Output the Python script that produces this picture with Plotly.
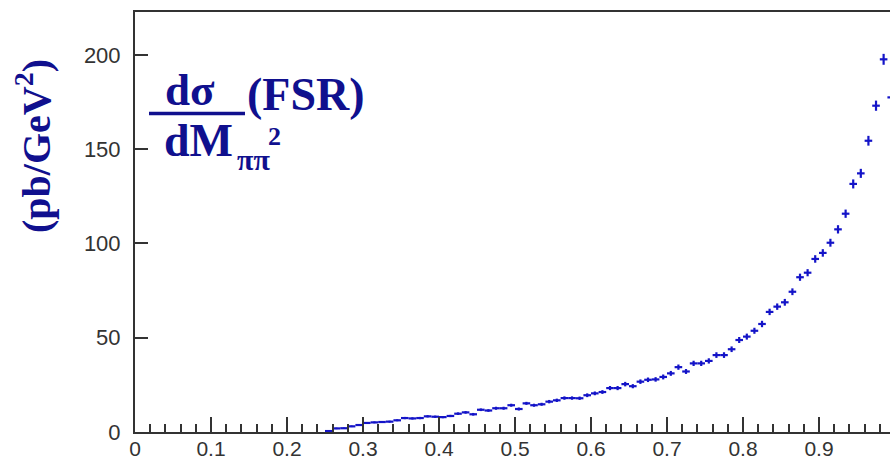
import plotly.graph_objects as go

# Histogram of dsigma/dM^2 (FSR) in bins of 0.01 GeV^2
bin_centers = [
    0.255, 0.265, 0.275, 0.285, 0.295, 0.305, 0.315, 0.325, 0.335, 0.345,
    0.355, 0.365, 0.375, 0.385, 0.395, 0.405, 0.415, 0.425, 0.435, 0.445,
    0.455, 0.465, 0.475, 0.485, 0.495, 0.505, 0.515, 0.525, 0.535, 0.545,
    0.555, 0.565, 0.575, 0.585, 0.595, 0.605, 0.615, 0.625, 0.635, 0.645,
    0.655, 0.665, 0.675, 0.685, 0.695, 0.705, 0.715, 0.725, 0.735, 0.745,
    0.755, 0.765, 0.775, 0.785, 0.795, 0.805, 0.815, 0.825, 0.835, 0.845,
    0.855, 0.865, 0.875, 0.885, 0.895, 0.905, 0.915, 0.925, 0.935, 0.945,
    0.955, 0.965, 0.975, 0.985, 0.995,
]
half_bin = 0.005

fsr_values = [
    0.5, 1.9, 2.0, 3.0, 3.7, 4.8, 5.1, 5.3, 5.5, 6.2,
    7.4, 7.2, 7.4, 8.3, 8.1, 7.9, 8.5, 9.7, 10.4, 9.4,
    11.8, 11.4, 12.6, 12.6, 14.2, 12.2, 15.2, 14.2, 14.7, 16.1,
    16.8, 18.0, 18.0, 17.9, 19.5, 20.5, 21.2, 23.3, 23.3, 25.4,
    24.3, 26.7, 27.7, 27.9, 29.2, 31.1, 34.4, 32.1, 36.4, 36.4,
    37.7, 40.8, 40.8, 43.9, 48.8, 50.6, 53.7, 57.3, 63.7, 66.5,
    68.8, 74.4, 82.1, 84.5, 91.8, 95.0, 100.4, 107.5, 115.8, 131.6,
    137.2, 154.5, 173.1, 197.7, 177.5,
]

fsr_errors = [
    0.3, 0.4, 0.4, 0.4, 0.5, 0.5, 0.5, 0.5, 0.5, 0.5,
    0.6, 0.6, 0.6, 0.6, 0.6, 0.6, 0.6, 0.7, 0.7, 0.7,
    0.7, 0.7, 0.8, 0.8, 0.8, 0.8, 0.8, 0.8, 0.8, 0.9,
    0.9, 0.9, 0.9, 0.9, 1.0, 1.0, 1.0, 1.1, 1.1, 1.2,
    1.1, 1.2, 1.2, 1.2, 1.3, 1.3, 1.4, 1.3, 1.4, 1.4,
    1.4, 1.5, 1.5, 1.5, 1.6, 1.6, 1.6, 1.7, 1.7, 1.7,
    1.8, 1.8, 1.9, 1.9, 2.0, 2.0, 2.1, 2.2, 2.2, 2.4,
    2.4, 2.6, 2.7, 2.9, 2.7,
]

x_tick_vals = [0, 0.1, 0.2, 0.3, 0.4, 0.5, 0.6, 0.7, 0.8, 0.9]
x_tick_text = ["0", "0.1", "0.2", "0.3", "0.4", "0.5", "0.6", "0.7", "0.8", "0.9"]
y_tick_vals = [0, 50, 100, 150, 200]
y_tick_text = ["0", "50", "100", "150", "200"]

W, H = 890, 461
L, R, T, B = 135, 0, 12, 29
X_MAX = 0.9934
Y_MAX = 222.8

MARK = "#1414c8"
NAVY = "#10108e"
AXIS = "#333333"
SERIF = "Liberation Serif"


def px(xp):
    return (xp - L) / (W - L - R)


def py(yp):
    return (H - B - yp) / (H - T - B)


fig = go.Figure()
fig.add_trace(go.Scatter(
    x=bin_centers,
    y=fsr_values,
    mode="markers",
    marker=dict(size=1, color=MARK),
    error_x=dict(type="constant", value=half_bin, width=0, thickness=2.2, color=MARK),
    error_y=dict(type="data", array=fsr_errors, width=0, thickness=2.2, color=MARK),
    showlegend=False,
    hoverinfo="x+y",
))

fig.update_xaxes(
    range=[0, X_MAX],
    tickvals=x_tick_vals,
    ticktext=x_tick_text,
    ticks="inside",
    ticklen=15,
    tickwidth=2,
    tickcolor=AXIS,
    minor=dict(dtick=0.02, tick0=0, ticks="inside", ticklen=8, tickwidth=2, tickcolor=AXIS),
    showline=True,
    linewidth=2,
    linecolor=AXIS,
    mirror=True,
    showgrid=False,
    zeroline=False,
    tickfont=dict(family="Liberation Sans", size=21, color=AXIS),
    ticklabelstandoff=-3,
    automargin=False,
)
fig.update_yaxes(
    range=[0, Y_MAX],
    tickvals=y_tick_vals,
    ticktext=y_tick_text,
    ticks="inside",
    ticklen=13,
    tickwidth=2,
    tickcolor=AXIS,
    showline=True,
    linewidth=2,
    linecolor=AXIS,
    mirror=False,
    showgrid=False,
    zeroline=False,
    tickfont=dict(family="Liberation Sans", size=22, color=AXIS),
    ticklabelstandoff=8,
    automargin=False,
)

big = dict(family=SERIF, size=46, color=NAVY)
small = dict(family=SERIF, size=30, color=NAVY)

annotations = [
    # numerator of the fraction
    dict(text="<b>dσ</b>", x=px(190), y=py(90), xanchor="center", yanchor="middle",
         font=dict(family=SERIF, size=45, color=NAVY)),
    dict(text="<b>(FSR)</b>", x=px(245), y=py(95), xanchor="left", yanchor="middle",
         font=big),
    # denominator
    dict(text="<b>dM</b>", x=px(162), y=py(140), xanchor="left", yanchor="middle",
         font=big),
    dict(text="<b>ππ</b>", x=px(235), y=py(159), xanchor="left", yanchor="middle",
         font=small),
    dict(text="<b>2</b>", x=px(266), y=py(136), xanchor="left", yanchor="middle",
         font=dict(family=SERIF, size=26, color=NAVY)),
    # y-axis unit
    dict(text="<b>(pb/GeV<sup>2</sup>)</b>", x=px(33), y=py(146), xanchor="center",
         yanchor="middle", textangle=-90, font=dict(family=SERIF, size=40, color=NAVY)),
]
for a in annotations:
    a.update(xref="paper", yref="paper", showarrow=False)

fig.update_layout(
    width=W,
    height=H,
    margin=dict(l=L, r=R, t=T, b=B),
    paper_bgcolor="white",
    plot_bgcolor="white",
    annotations=annotations,
    shapes=[dict(type="line", xref="paper", yref="paper",
                 x0=px(149), x1=px(245), y0=py(113.5), y1=py(113.5),
                 line=dict(color=NAVY, width=3.5))],
)

fig.write_html("out.html")
